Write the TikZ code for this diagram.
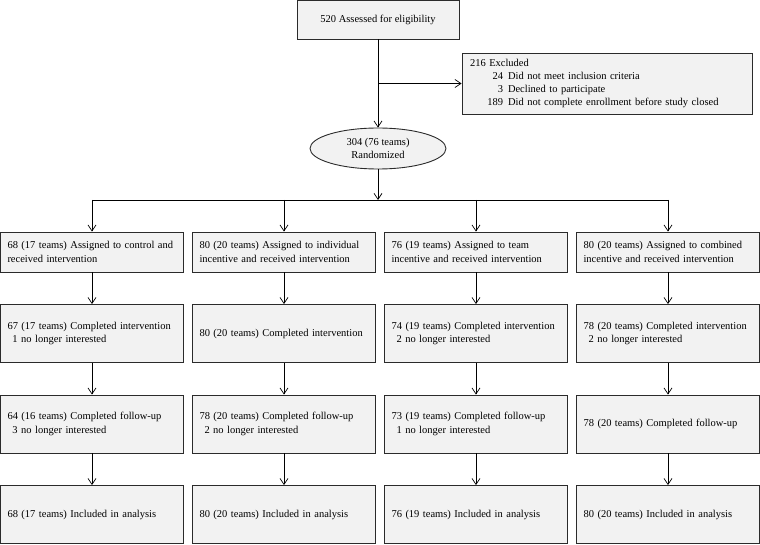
\documentclass[tikz,border=0pt]{standalone}
\usepackage{fontspec}
\setmainfont{Liberation Serif}
\usetikzlibrary{shapes.geometric, arrows.meta}
\definecolor{boxgray}{HTML}{F2F2F2}
\definecolor{edgegray}{HTML}{2B2B2B}
\tikzstyle{start} = [rectangle, minimum width=162pt, minimum height=39pt, text centered, draw=edgegray, line width=0.9pt, fill=boxgray]
\tikzstyle{excl} = [rectangle, minimum width=290pt, minimum height=61pt, text width=274pt, inner xsep=8pt, align=left, draw=edgegray, line width=0.9pt, fill=boxgray, font=\fontsize{10.5}{12.7}\selectfont]
\tikzstyle{oval} = [ellipse, minimum width=136pt, minimum height=41pt, inner sep=0pt, align=center, draw=edgegray, line width=0.9pt, fill=boxgray]
\tikzstyle{stage} = [rectangle, minimum width=183pt, minimum height=58pt, text width=169pt, inner xsep=7pt, inner ysep=0pt, align=left, draw=edgegray, line width=0.9pt, fill=boxgray]
\tikzstyle{invis} = [coordinate]
\tikzstyle{arrow} = [line width=0.7pt, ->, >={Straight Barb[length=6pt,width=8pt]}]

\begin{document}
\begin{tikzpicture}[node distance=2.5cm, font=\fontsize{10.5}{13.5}\selectfont]

\useasboundingbox (0,0) rectangle (760pt,-545pt);

%% NODES

\node (top) [start] at (378pt,-19.5pt) {520 Assessed for eligibility};
\node (rand) [oval, below of=top, node distance=129pt] {304 (76 teams)\\Randomized};
\node (ex) [excl, right of=top, node distance=229pt, yshift=-64pt] {216 Excluded\\
  \makebox[33pt][r]{24}\hspace{5pt}Did not meet inclusion criteria\\
  \makebox[33pt][r]{3}\hspace{5pt}Declined to participate\\
  \makebox[33pt][r]{189}\hspace{5pt}Did not complete enrollment before study closed};
\node (split) [invis] at (top |- ex) {};
\node (branch) [invis, below of=rand, node distance=51.5pt] {};

\node (a1) [stage, minimum height=40pt, below of=rand, node distance=103.5pt, xshift=-286pt] {68 (17 teams) Assigned to control and\\received intervention};
\node (a2) [stage, minimum height=40pt, right of=a1, node distance=192pt] {80 (20 teams) Assigned to individual\\incentive and received intervention};
\node (a3) [stage, minimum height=40pt, right of=a2, node distance=192pt] {76 (19 teams) Assigned to team\\incentive and received intervention};
\node (a4) [stage, minimum height=40pt, right of=a3, node distance=192pt] {80 (20 teams) Assigned to combined\\incentive and received intervention};

\node (b1) [stage, below of=a1, node distance=81.5pt] {67 (17 teams) Completed intervention\\\hspace*{5pt}1 no longer interested};
\node (b2) [stage, below of=a2, node distance=81.5pt] {80 (20 teams) Completed intervention};
\node (b3) [stage, below of=a3, node distance=81.5pt] {74 (19 teams) Completed intervention\\\hspace*{5pt}2 no longer interested};
\node (b4) [stage, below of=a4, node distance=81.5pt] {78 (20 teams) Completed intervention\\\hspace*{5pt}2 no longer interested};

\node (c1) [stage, below of=b1, node distance=90.5pt] {64 (16 teams) Completed follow-up\\\hspace*{5pt}3 no longer interested};
\node (c2) [stage, below of=b2, node distance=90.5pt] {78 (20 teams) Completed follow-up\\\hspace*{5pt}2 no longer interested};
\node (c3) [stage, below of=b3, node distance=90.5pt] {73 (19 teams) Completed follow-up\\\hspace*{5pt}1 no longer interested};
\node (c4) [stage, below of=b4, node distance=90.5pt] {78 (20 teams) Completed follow-up};

\node (d1) [stage, below of=c1, node distance=90.5pt] {68 (17 teams) Included in analysis};
\node (d2) [stage, below of=c2, node distance=90.5pt] {80 (20 teams) Included in analysis};
\node (d3) [stage, below of=c3, node distance=90.5pt] {76 (19 teams) Included in analysis};
\node (d4) [stage, below of=c4, node distance=90.5pt] {80 (20 teams) Included in analysis};

%% ARROWS

\draw [arrow] (top) -- (rand);
\draw [arrow] (split) -- (ex);
\draw [arrow] (rand) -- (branch);
\draw [line width=0.7pt] (a1 |- branch) -- (a4 |- branch);

\draw [arrow] (a1 |- branch) -- (a1);
\draw [arrow] (a2 |- branch) -- (a2);
\draw [arrow] (a3 |- branch) -- (a3);
\draw [arrow] (a4 |- branch) -- (a4);

\draw [arrow] (a1) -- (b1);
\draw [arrow] (a2) -- (b2);
\draw [arrow] (a3) -- (b3);
\draw [arrow] (a4) -- (b4);

\draw [arrow] (b1) -- (c1);
\draw [arrow] (b2) -- (c2);
\draw [arrow] (b3) -- (c3);
\draw [arrow] (b4) -- (c4);

\draw [arrow] (c1) -- (d1);
\draw [arrow] (c2) -- (d2);
\draw [arrow] (c3) -- (d3);
\draw [arrow] (c4) -- (d4);

\end{tikzpicture}
\end{document}
